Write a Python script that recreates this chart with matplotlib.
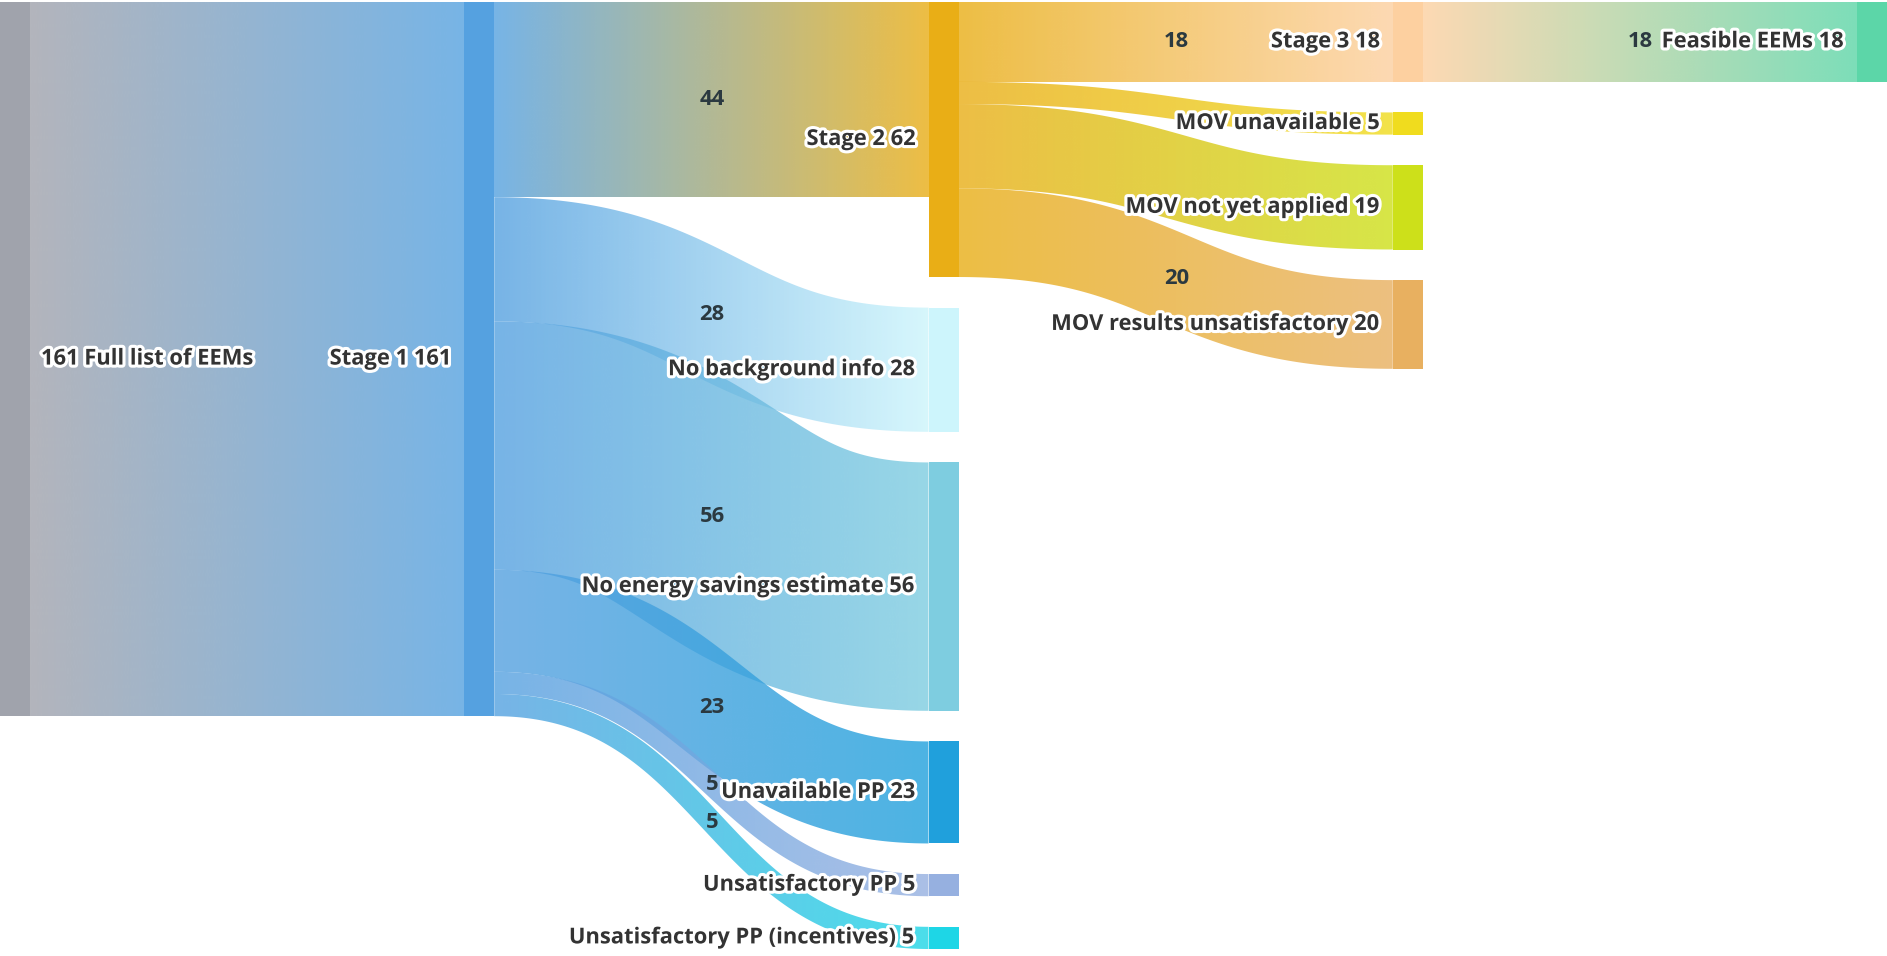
import numpy as np
import matplotlib
matplotlib.use("Agg")
import matplotlib.pyplot as plt
from matplotlib.path import Path
from matplotlib.patches import PathPatch, Rectangle
from matplotlib.colors import to_rgb
import matplotlib.patheffects as pe

# ---- data -------------------------------------------------------------
node_names = [
    "Full list of EEMs", "Stage 1", "Stage 2",
    "No background info", "No energy savings estimate", "Unavailable PP",
    "Unsatisfactory PP", "Unsatisfactory PP (incentives)",
    "Stage 3", "MOV unavailable", "MOV not yet applied",
    "MOV results unsatisfactory", "Feasible EEMs",
]
node_columns = [0, 1, 2, 2, 2, 2, 2, 2, 3, 3, 3, 3, 4]
node_colors = [
    "#a0a3ac", "#55a1e0", "#e9ae16",
    "#cdf5fc", "#7ecde0", "#20a0dc",
    "#96b0e0", "#1ed6e6",
    "#fdd0a0", "#f0dc1e", "#cde01a",
    "#e8b060", "#5cd6a8",
]

link_sources = [0, 1, 1, 1, 1, 1, 1, 2, 2, 2, 2, 8]
link_targets = [1, 2, 3, 4, 5, 6, 7, 8, 9, 10, 11, 12]
link_values = [161, 44, 28, 56, 23, 5, 5, 18, 5, 19, 20, 18]
link_label_shown = [False, True, True, True, True, True, True,
                    True, False, False, True, True]

# ---- figure -----------------------------------------------------------
W, H = 1887, 956
fig = plt.figure(figsize=(W / 100, H / 100), dpi=100)
ax = fig.add_axes([0, 0, 1, 1])
ax.axis("off")

FONT = "Open Sans"
FS = 15.8
node_w = 30
top_pad, bottom_pad = 2, 7
gap = 30.6
link_alpha = 0.8

n = len(node_names)
inflow = np.zeros(n)
outflow = np.zeros(n)
for s, t, v in zip(link_sources, link_targets, link_values):
    outflow[s] += v
    inflow[t] += v
node_val = np.maximum(inflow, outflow)

ncols = max(node_columns) + 1
col_step = (W - node_w) / (ncols - 1)

# vertical scale: the most crowded column fills the height
scale = min(
    (H - top_pad - bottom_pad - gap * (node_columns.count(c) - 1))
    / sum(node_val[i] for i in range(n) if node_columns[i] == c)
    for c in range(ncols)
)

node_x = np.array([c * col_step for c in node_columns])
node_y = np.zeros(n)
node_h = node_val * scale
for c in range(ncols):
    y = top_pad
    for i in range(n):
        if node_columns[i] == c:
            node_y[i] = y
            y += node_h[i] + gap


def ribbon_path(x0, yc0, x1, yc1, w, m=240):
    """Band of constant thickness around a cubic centre-line."""
    t = np.linspace(0, 1, m)
    xm = (x0 + x1) / 2
    bx = (1 - t) ** 3 * x0 + 3 * (1 - t) ** 2 * t * xm + 3 * (1 - t) * t ** 2 * xm + t ** 3 * x1
    by = (1 - t) ** 3 * yc0 + 3 * (1 - t) ** 2 * t * yc0 + 3 * (1 - t) * t ** 2 * yc1 + t ** 3 * yc1
    dx = 3 * (1 - t) ** 2 * (xm - x0) + 3 * t ** 2 * (x1 - xm)
    dy = 6 * (1 - t) * t * (yc1 - yc0)
    L = np.hypot(dx, dy)
    nx, ny = -dy / L, dx / L
    upper = np.column_stack([bx - nx * w / 2, by - ny * w / 2])
    lower = np.column_stack([bx + nx * w / 2, by + ny * w / 2])
    verts = np.vstack([upper, lower[::-1], upper[:1]])
    codes = [Path.MOVETO] + [Path.LINETO] * (len(verts) - 2) + [Path.CLOSEPOLY]
    return Path(verts, codes), bx[m // 2], by[m // 2]


# ---- links ------------------------------------------------------------
out_off = node_y.copy()
in_off = node_y.copy()
link_label_pos = []
for s, t, v in zip(link_sources, link_targets, link_values):
    w = v * scale
    ys = out_off[s] + w / 2
    yt = in_off[t] + w / 2
    out_off[s] += w
    in_off[t] += w
    x0 = node_x[s] + node_w
    x1 = node_x[t]
    path, mx, my = ribbon_path(x0, ys, x1, yt, w)
    patch = PathPatch(path, facecolor="none", edgecolor="none")
    ax.add_patch(patch)
    c0 = np.array(to_rgb(node_colors[s]))
    c1 = np.array(to_rgb(node_colors[t]))
    g = np.linspace(0, 1, 256)[None, :, None]
    rgb = c0 * (1 - g) + c1 * g
    img = np.concatenate([rgb, np.full((1, 256, 1), link_alpha)], axis=2)
    ext = path.get_extents()
    im = ax.imshow(img, extent=(x0, x1, ext.y1 + 1, ext.y0 - 1),
                   aspect="auto", interpolation="bilinear", zorder=1)
    im.set_clip_path(patch)
    link_label_pos.append((mx, my))

# ---- nodes ------------------------------------------------------------
for i in range(n):
    ax.add_patch(Rectangle((node_x[i], node_y[i]), node_w, node_h[i],
                           facecolor=node_colors[i], edgecolor="none", zorder=2))

halo = [pe.withStroke(linewidth=4.5, foreground="white")]
for i in range(n):
    yc = node_y[i] + node_h[i] / 2
    val = int(node_val[i])
    if node_columns[i] == 0:
        ax.text(node_x[i] + node_w + 11, yc, f"{val} {node_names[i]}",
                ha="left", va="center", fontsize=FS, fontweight="bold",
                family=FONT, color="#333333", path_effects=halo, zorder=4)
    else:
        ax.text(node_x[i] - 12, yc, f"{node_names[i]} {val}",
                ha="right", va="center", fontsize=FS, fontweight="bold",
                family=FONT, color="#333333", path_effects=halo, zorder=4)

for (mx, my), v, shown in zip(link_label_pos, link_values, link_label_shown):
    if shown:
        ax.text(mx, my, str(v), ha="center", va="center", fontsize=FS,
                fontweight="bold", family=FONT, color="#2b3940", zorder=3)

ax.set_xlim(0, W)
ax.set_ylim(H, 0)
fig.savefig("out.png", dpi=100, facecolor="white")
